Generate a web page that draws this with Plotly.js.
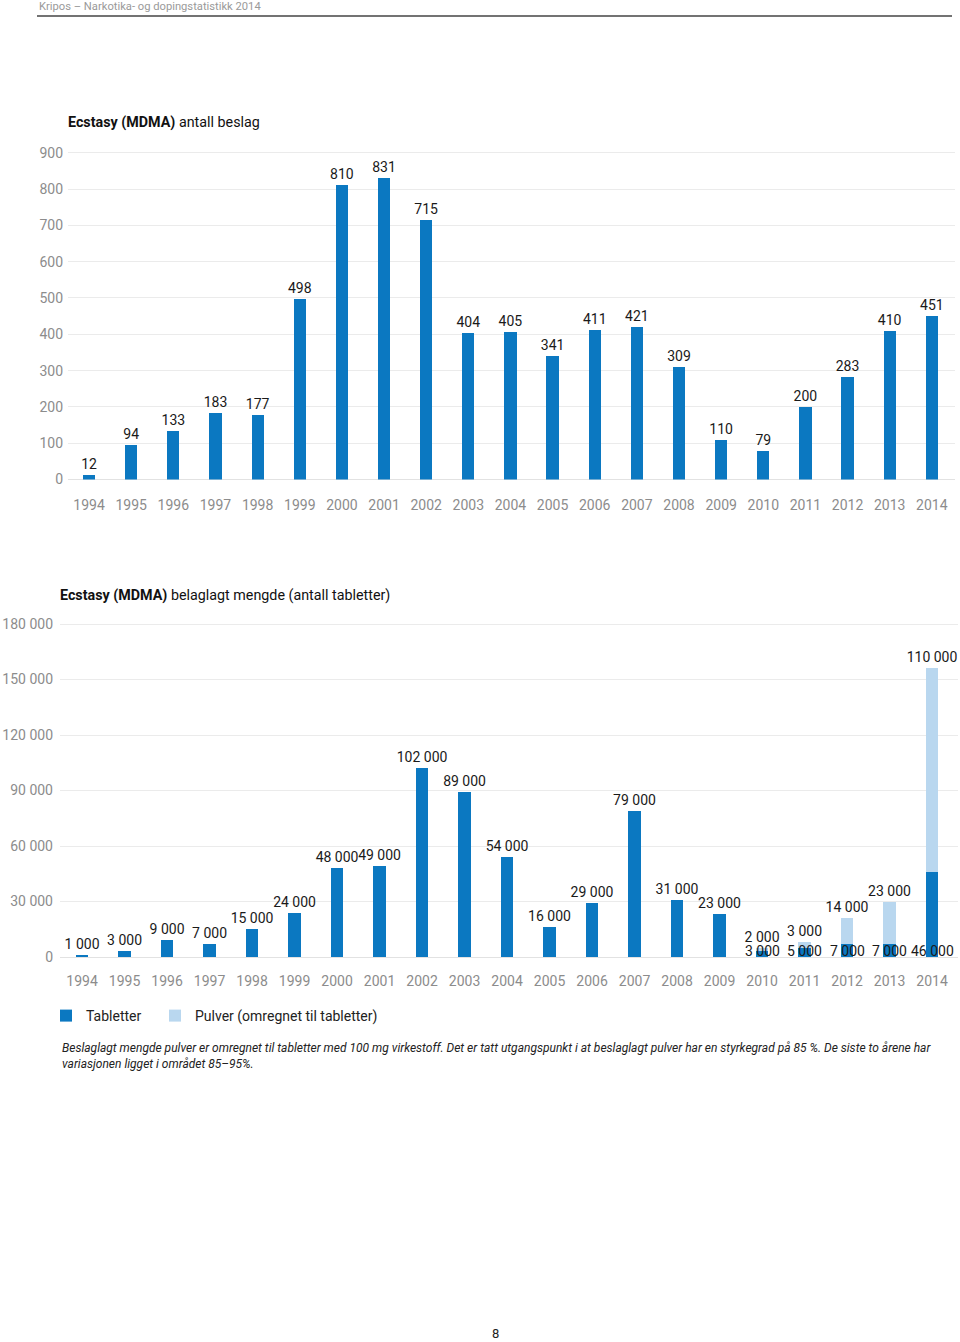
<!DOCTYPE html>
<html><head><meta charset="utf-8">
<script src="https://cdn.plot.ly/plotly-3.0.1.min.js"></script>
<style>html,body{margin:0;padding:0;background:#fff}#chart{width:960px;height:1342px}</style>
</head><body><div id="chart"></div>
<script>
// ---- data ----
const years = [1994,1995,1996,1997,1998,1999,2000,2001,2002,2003,2004,2005,2006,2007,2008,2009,2010,2011,2012,2013,2014];
const beslag = [12,94,133,183,177,498,810,831,715,404,405,341,411,421,309,110,79,200,283,410,451];
const tabletter = [1000,3000,9000,7000,15000,24000,48000,49000,102000,89000,54000,16000,29000,79000,31000,23000,3000,5000,7000,7000,46000];
const pulver = [null,null,null,null,null,null,null,null,null,null,null,null,null,null,null,null,2000,3000,14000,23000,110000];
const seriesNames = ['Tabletter', 'Pulver (omregnet til tabletter)'];
const title1 = '<b>Ecstasy (MDMA)</b> antall beslag';
const title2 = '<b>Ecstasy (MDMA)</b> belaglagt mengde (antall tabletter)';
const header = 'Kripos – Narkotika- og dopingstatistikk 2014';
const footnote = '<i>Beslaglagt mengde pulver er omregnet til tabletter med 100 mg virkestoff. Det er tatt utgangspunkt i at beslaglagt pulver har en styrkegrad på 85 %. De siste to årene har<br>variasjonen ligget i området 85–95%.</i>';
const pageNo = '8';

// ---- helpers ----
const W = 960, H = 1342;
const px = v => v / W;           // x pixel -> paper
const py = v => 1 - v / H;       // y pixel -> paper
const fmt = v => String(v).replace(/\B(?=(\d{3})+(?!\d))/g, '\u00a0');
const FONT = 'Roboto, "Open Sans", sans-serif';
const DARK = '#0b78c1', LIGHT = '#b9d7ef';
const tickGray = '#8c8c8c', gridGray = '#ebebeb', ink = '#1a1a1a';

const tabText = tabletter.map((v, i) => pulver[i] == null ? fmt(v) : '');
const pulText = pulver.map(v => v == null ? '' : fmt(v));
const txtFont = {family:FONT, size:14, color:ink};

const traces = [
  {type:'bar', x: years, y: beslag, xaxis:'x', yaxis:'y', width:0.29,
   marker:{color:DARK}, text: beslag.map(String), textposition:'outside', constraintext:'none',
   textfont:txtFont, outsidetextfont:txtFont, cliponaxis:false, showlegend:false, hoverinfo:'x+y'},
  {type:'bar', name: seriesNames[0], x: years, y: tabletter, xaxis:'x2', yaxis:'y2', width:0.29,
   marker:{color:DARK}, text: tabText, textposition:'outside', constraintext:'none', legendwidth:64,
   textfont:txtFont, outsidetextfont:txtFont, insidetextfont:txtFont, cliponaxis:false},
  {type:'bar', name: seriesNames[1], x: years, y: pulver, xaxis:'x2', yaxis:'y2', width:0.29,
   marker:{color:LIGHT}, text: pulText, textposition:'outside', constraintext:'none',
   textfont:txtFont, outsidetextfont:txtFont, cliponaxis:false}
];

const annotations = [
  {xref:'paper', yref:'paper', x:px(37), y:py(6), xanchor:'left', yanchor:'middle', showarrow:false,
   text: header, font:{family:FONT, size:11.2, color:'#9a9a9a'}},
  {xref:'paper', yref:'paper', x:px(66), y:py(123), xanchor:'left', yanchor:'middle', showarrow:false,
   text: title1, font:{family:FONT, size:14.3, color:'#111'}},
  {xref:'paper', yref:'paper', x:px(58), y:py(595), xanchor:'left', yanchor:'middle', showarrow:false,
   text: title2, font:{family:FONT, size:14.3, color:'#111'}},
  {xref:'paper', yref:'paper', x:px(60), y:py(1039), xanchor:'left', yanchor:'top', align:'left', showarrow:false,
   text: footnote, font:{family:FONT, size:12, color:'#222'}},
  {xref:'paper', yref:'paper', x:px(495), y:py(1333), xanchor:'center', yanchor:'middle', showarrow:false,
   text: pageNo, font:{family:FONT, size:13, color:'#222'}}
];
// tabletter labels for stacked years sit at the base
years.forEach((yr, i) => {
  if (pulver[i] != null) {
    annotations.push({xref:'x2', yref:'y2', x: yr, y: 0, yanchor:'bottom', yshift:-4, showarrow:false,
      text: fmt(tabletter[i]), font:txtFont});
  }
});

const axX = {tickmode:'array', tickvals: years, tickformat:'d', showgrid:false, zeroline:false, showline:false,
  ticks:'outside', tickcolor:'rgba(0,0,0,0)', tickfont:{family:FONT, size:14, color:tickGray}, fixedrange:true};

const layout = {
  width: W, height: H, margin:{l:0, r:0, t:0, b:0},
  paper_bgcolor:'#fff', plot_bgcolor:'#fff',
  separators: ',\u00a0',
  barmode:'stack',
  font:{family:FONT, color:ink},
  xaxis: Object.assign({}, axX, {domain:[px(68), px(955)], range:[1993.5, 2014.55], anchor:'y', ticklen:13}),
  yaxis: {domain:[py(479.5), py(141.9)], range:[0, 930], dtick:100, tick0:0, anchor:'x',
    showgrid:true, gridcolor:gridGray, zeroline:true, zerolinecolor:'#e2e2e2', showline:false,
    ticks:'', ticklabelstandoff:4, tickfont:{family:FONT, size:14, color:tickGray}, fixedrange:true},
  xaxis2: Object.assign({}, axX, {domain:[px(60), px(958)], range:[1993.48, 2014.61], anchor:'y2', ticklen:11}),
  yaxis2: {domain:[py(957), py(614.75)], range:[0, 185000], dtick:30000, tick0:0, anchor:'x2', tickformat:',d',
    showgrid:true, gridcolor:gridGray, zeroline:true, zerolinecolor:'#e2e2e2', showline:false,
    ticks:'', ticklabelstandoff:6, tickfont:{family:FONT, size:14, color:tickGray}, fixedrange:true},
  showlegend:true,
  legend:{orientation:'h', x:px(46), y:py(1000), xanchor:'left', yanchor:'top',
    font:{family:FONT, size:14, color:'#222'}, traceorder:'normal'},
  shapes:[
    {type:'line', xref:'paper', yref:'paper', x0:px(37), x1:px(952), y0:py(16), y1:py(16),
     line:{color:'#444', width:1.5}}
  ],
  annotations: annotations
};

Plotly.newPlot('chart', traces, layout, {displayModeBar:false, staticPlot:true});
</script>
</body></html>
